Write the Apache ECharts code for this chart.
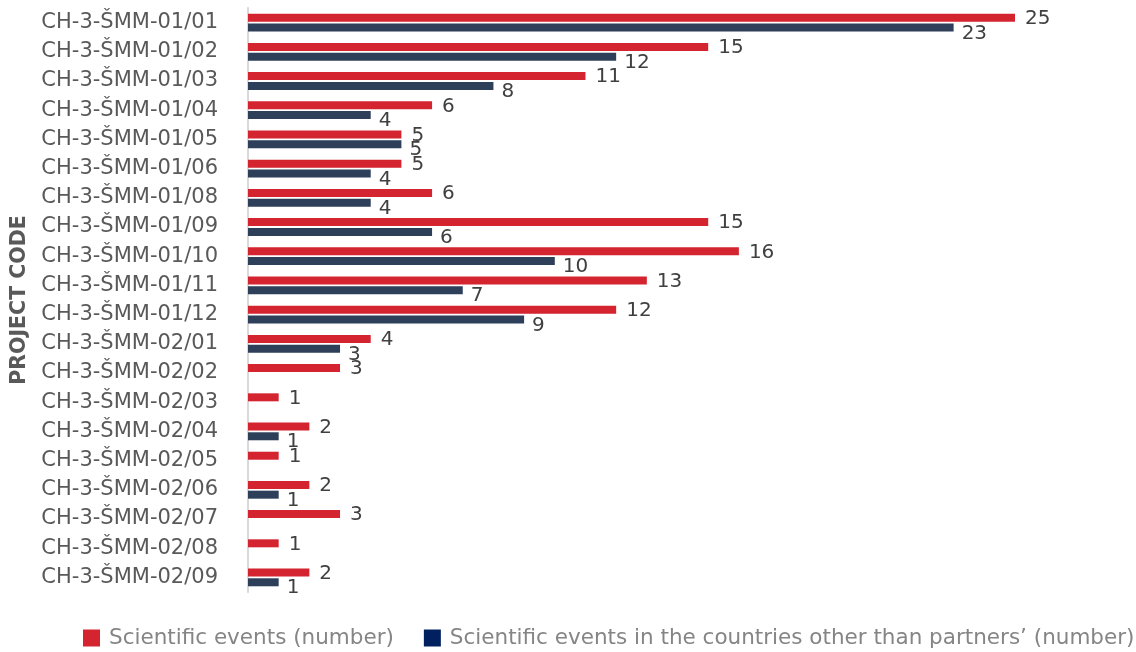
<!DOCTYPE html>
<html><head><meta charset="utf-8">
<script src="https://cdn.jsdelivr.net/npm/echarts@6/dist/echarts.min.js"></script>
<style>html,body{margin:0;padding:0;background:#fff}#c{width:1136px;height:652px}</style>
</head><body><div id="c"></div>
<script>
const categories = ["CH-3-ŠMM-01/01","CH-3-ŠMM-01/02","CH-3-ŠMM-01/03","CH-3-ŠMM-01/04","CH-3-ŠMM-01/05","CH-3-ŠMM-01/06","CH-3-ŠMM-01/08","CH-3-ŠMM-01/09","CH-3-ŠMM-01/10","CH-3-ŠMM-01/11","CH-3-ŠMM-01/12","CH-3-ŠMM-02/01","CH-3-ŠMM-02/02","CH-3-ŠMM-02/03","CH-3-ŠMM-02/04","CH-3-ŠMM-02/05","CH-3-ŠMM-02/06","CH-3-ŠMM-02/07","CH-3-ŠMM-02/08","CH-3-ŠMM-02/09"];
const scientificEvents = [25,15,11,6,5,5,6,15,16,13,12,4,3,1,2,1,2,3,1,2];
const otherCountriesEvents = [23,12,8,4,5,4,4,6,10,7,9,3,0,0,1,0,1,0,0,1];
const seriesNames = ["Scientific events (number)","Scientific events in the countries other than partners’ (number)"];

const chart = echarts.init(document.getElementById('c'));
const fontFam = 'DejaVu Sans';
chart.setOption({
  animation: false,
  grid: {left: 248, right: 121, top: 8, bottom: 60, containLabel: false},
  legend: {
    bottom: 3, left: 83, width: 1130, padding: 0, itemWidth: 17, itemHeight: 17, itemGap: 30,
    icon: 'rect',
    textStyle: {color: '#858585', fontSize: 21.5, fontFamily: fontFam, padding: [0, 0, 0, 4]},
    data: [
      {name: seriesNames[0], itemStyle: {color: '#D42430', borderWidth: 0}},
      {name: seriesNames[1], itemStyle: {color: '#002060', borderWidth: 0}}
    ]
  },
  xAxis: {type: 'value', min: 0, max: 25, show: false},
  yAxis: {
    type: 'category', data: categories, inverse: true,
    name: 'PROJECT CODE', nameLocation: 'middle', nameRotate: 90, nameGap: 214,
    nameTextStyle: {color: '#595959', fontSize: 20.5, fontWeight: 'bold', fontFamily: fontFam},
    axisLine: {lineStyle: {color: '#d9d9d9', width: 2}},
    axisTick: {show: false},
    axisLabel: {color: '#595959', fontSize: 21, fontFamily: fontFam, margin: 30}
  },
  series: [
    {
      name: seriesNames[0], type: 'bar', data: scientificEvents,
      barWidth: 8, barGap: '22%',
      itemStyle: {color: '#D42430'},
      label: {show: true, position: 'right', distance: 10, offset: [0, 1],
        color: '#404040', fontSize: 20, fontFamily: fontFam,
        formatter: p => p.value ? p.value : ''}
    },
    {
      name: seriesNames[1], type: 'bar', data: otherCountriesEvents,
      barWidth: 8,
      itemStyle: {color: '#2E3F5A'},
      label: {show: true, position: 'right', distance: 8, offset: [0, 6],
        color: '#404040', fontSize: 20, fontFamily: fontFam,
        formatter: p => p.value ? p.value : ''}
    }
  ]
});
</script></body></html>
